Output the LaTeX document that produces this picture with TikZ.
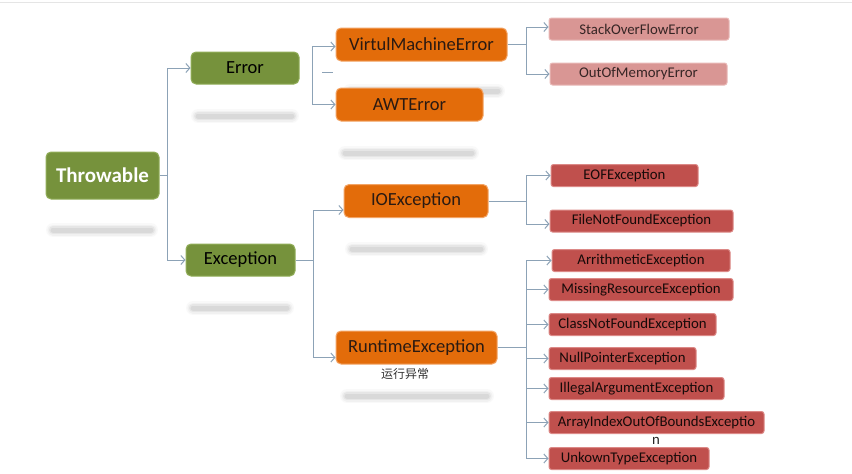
\documentclass[tikz,border=0pt]{standalone}
\usepackage{fontspec}
\setmainfont{Carlito}
\newfontfamily\cjkfont{Noto Sans CJK SC}
\usetikzlibrary{arrows.meta}

\definecolor{leaf}{HTML}{76923C}
\definecolor{leafedge}{HTML}{92AE5A}
\definecolor{ember}{HTML}{E36C0A}
\definecolor{emberedge}{HTML}{F3A465}
\definecolor{rose}{HTML}{D99694}
\definecolor{roseedge}{HTML}{E9B9B7}
\definecolor{brick}{HTML}{C0504D}
\definecolor{brickedge}{HTML}{DC8987}
\definecolor{wire}{HTML}{8CA2B6}
\definecolor{darkink}{HTML}{2A1A12}

% soft grey placeholder bar under a box
\newcommand\hazebar[3]{%
  \foreach \w/\o in {14/0.045,11/0.06,8/0.09,5/0.12}{%
    \draw[line width=\w pt, line cap=round, gray, opacity=\o] (#1,#3) -- (#2,#3);}}

\tikzset{
  basebox/.style={inner sep=0pt, line width=1pt, align=center},
  greenbox/.style={basebox, fill=leaf, draw=leafedge, rounded corners=5pt,
    text=black, font=\fontsize{18.5}{18.5}\selectfont},
  rootbox/.style={greenbox, text=white, font=\fontsize{21}{21}\selectfont\bfseries},
  orangebox/.style={basebox, fill=ember, draw=emberedge, rounded corners=5pt,
    text=darkink, font=\fontsize{18.5}{18.5}\selectfont, minimum height=33pt},
  pinkbox/.style={basebox, fill=rose, draw=roseedge, rounded corners=2.5pt,
    text=black!75!rose, font=\fontsize{14.8}{14.8}\selectfont, minimum height=22pt},
  redbox/.style={basebox, fill=brick, draw=brickedge, rounded corners=2.5pt,
    text=black!88!brick, font=\fontsize{14.8}{14.8}\selectfont, minimum height=22pt},
  link/.style={draw=wire, line width=1pt},
  arr/.style={link, -{Straight Barb[length=4pt,width=9pt]}},
  arrs/.style={link, {Straight Barb[length=4pt,width=9pt]}-{Straight Barb[length=4pt,width=9pt]}}
}

\begin{document}
\begin{tikzpicture}[x=1pt,y=-1pt]
\useasboundingbox (0,0) rectangle (852,474);
\fill[white] (0,0) rectangle (852,474);
\draw[gray!20, line width=1.2pt] (0,2.5) -- (852,2.5);

% placeholder bars
\hazebar{53}{151}{230}
\hazebar{198}{292}{116}
\hazebar{193}{287}{308}
\hazebar{350}{498}{91}
\hazebar{345}{472}{153}
\hazebar{352}{481}{249}
\hazebar{347}{487}{396}

% level 0 and 1
\node[rootbox, minimum width=113pt, minimum height=47pt] (throwable) at (102.5,175.5) {Throwable};
\node[greenbox, minimum width=108pt, minimum height=32pt] (error) at (245,68) {Error};
\node[greenbox, minimum width=109pt, minimum height=32pt] (exception) at (240.5,260) {Exception};

% level 2
\node[orangebox, minimum width=171pt] (vme) at (421.5,44.5) {VirtulMachineError};
\node[orangebox, minimum width=147pt] (awt) at (409.5,104.5) {AWTError};
\node[orangebox, minimum width=144pt] (io) at (416,201) {IOException};
\node[orangebox, minimum width=161pt] (rt) at (416.5,347.5) {RuntimeException};
\node[text=black!80, font=\cjkfont\fontsize{12}{12}\selectfont] (rtnote) at (405,374) {运行异常};

% level 3
\node[pinkbox, minimum width=180pt] (stack) at (639,29) {StackOverFlowError};
\node[pinkbox, minimum width=177pt] (oom) at (638.5,74) {OutOfMemoryError};
\node[redbox, minimum width=147pt] (eof) at (624.5,175.5) {EOFException};
\node[redbox, minimum width=183pt] (fnf) at (641.5,221) {FileNotFoundException};
\node[redbox, minimum width=178pt] (arith) at (641,260.5) {ArrithmeticException};
\node[redbox, minimum width=184pt] (missing) at (641,289.5) {MissingResourceException};
\node[redbox, minimum width=167pt] (cnf) at (632.5,324.5) {ClassNotFoundException};
\node[redbox, minimum width=147pt] (npe) at (622.5,358.5) {NullPointerException};
\node[redbox, minimum width=175pt] (iae) at (636.5,388.5) {IllegalArgumentException};
\node[redbox, minimum width=215pt] (aioobe) at (656.5,422.5) {ArrayIndexOutOfBoundsExceptio};
\node[text=black!85, font=\fontsize{14.8}{14.8}\selectfont] (aioobetail) at (656,441) {n};
\node[redbox, minimum width=160pt] (unknown) at (629,458.5) {UnkownTypeException};

% Throwable branches
\draw[link] (throwable.east) -- ++(8,0) coordinate (tj);
\draw[arr] (tj) |- (error.west);
\draw[arr] (tj) |- (exception.west);

% Error branches
\draw[arrs] ([yshift=-2pt]vme.west) -- ++(-23,0) |- (awt.west);
\draw[link] (322,72) -- (333,72);

% Exception branches
\draw[link] (exception.east) -- ++(18,0) coordinate (ej);
\draw[arr] (ej) |- ([yshift=-9pt]io.west);
\draw[arr] (ej) |- ([yshift=-10pt]rt.west);

% VirtulMachineError branches
\draw[link] (vme.east) -- ++(19,0) coordinate (vj);
\draw[arr] (vj) |- ([yshift=2pt]stack.west);
\draw[arr] (vj) |- (oom.west);

% IOException branches
\draw[link] (io.east) -- ++(38,0) coordinate (ij);
\draw[arr] (ij) |- (eof.west);
\draw[arr] (ij) |- ([yshift=-3pt]fnf.west);

% RuntimeException branches
\draw[link] (rt.east) -- ++(29,0) coordinate (rj);
\foreach \n in {arith,missing,cnf,npe,iae,aioobe,unknown}
  \draw[arr] (rj) |- (\n.west);
\end{tikzpicture}
\end{document}
